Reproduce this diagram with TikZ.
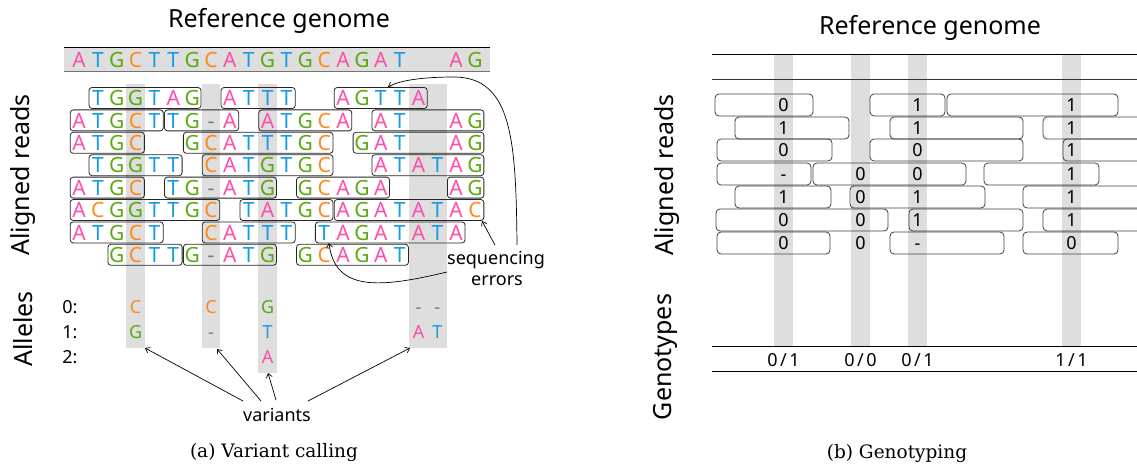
\documentclass[tikz,border=0pt]{standalone}
\usepackage{fontspec}
\newfontfamily\nsans{Noto Sans}
\newfontfamily\capserif{DejaVu Serif}
\usetikzlibrary{arrows.meta}
\definecolor{cA}{HTML}{FF4FA8}
\definecolor{cT}{HTML}{1A9BE6}
\definecolor{cG}{HTML}{5AAA12}
\definecolor{cC}{HTML}{FF8A1C}
\definecolor{cD}{HTML}{777777}
\definecolor{band}{HTML}{DEDEDE}
\newcommand\bA{\textcolor{cA}{A}}
\newcommand\bT{\textcolor{cT}{T}}
\newcommand\bG{\textcolor{cG}{G}}
\newcommand\bC{\textcolor{cC}{C}}
\newcommand\bD{\textcolor{cD}{-}}
\newcommand\bN{}
\newcommand\readbox[5]{%
  \node[rb, minimum width={18.86*(#4-#3)+17.6}] (#1) at ({79+18.86*(#3+#4)/2},#2) {};
  \foreach \l [count=\k from #3] in {#5}{\node[base] (#1-\k) at ({79+18.86*\k},#2) {\csname b\l\endcsname};}%
}
\newcommand\gbox[4]{%
  \node[gb, minimum width={#4-#3}] (#1) at ({(#3+#4)/2},#2) {};%
}
\begin{document}
\begin{tikzpicture}[x=1pt,y=-1pt,
 base/.style={inner sep=0pt, text height=15.5pt, text depth=0pt, font=\nsans\fontsize{21}{21}\selectfont},
 small/.style={inner sep=0pt, anchor=base, font=\nsans\fontsize{18}{18}\selectfont},
 big/.style={inner sep=0pt, font=\nsans\fontsize{25}{25}\selectfont},
 rb/.style={draw=black!85, line width=0.8pt, rounded corners=3pt, minimum height=21pt, inner sep=0pt},
 gb/.style={draw=black!75, line width=0.8pt, rounded corners=4pt, minimum height=22pt, inner sep=0pt},
 dig/.style={inner sep=0pt, text height=13pt, text depth=0pt, font=\nsans\fontsize{18}{18}\selectfont},
 arr/.style={-{Straight Barb[length=4pt,width=6pt]}, line width=0.7pt},
 captext/.style={inner sep=0pt, anchor=base, font=\capserif\fontsize{18.5}{18.5}\selectfont},
]
\useasboundingbox (0,0) rectangle (1137,468);
\clip (0,0) rectangle (1137,468);

% ---------- left panel ----------
\node[big, anchor=base] (t1) at (279,28) {Reference genome};
\fill[band] (64,47) rectangle (490,72);
\draw[black, line width=0.8pt] (64,47) -- (490,47);
\draw[black!55, line width=1pt] (64,72) -- (490,72);
\foreach \l [count=\k from 0] in {A,T,G,C,T,T,G,C,A,T,G,T,G,C,A,G,A,T,N,N,A,G}
  {\node[base] (g-\k) at ({79+18.86*\k},60) {\csname b\l\endcsname};}

% bands
\fill[band] (126.2,84) rectangle (145,348);
\fill[band] (201.6,84) rectangle (220.4,348);
\fill[band] (258.2,84) rectangle (277,373);
\fill[band] (409.1,84) rectangle (446.7,348);

% reads
\readbox{r1a}{98}{1}{6}{T,G,G,T,A,G}
\readbox{r1b}{98}{8}{11}{A,T,T,T}
\readbox{r1c}{98}{14}{18}{A,G,T,T,A}
\readbox{r2a}{120.4}{0}{4}{A,T,G,C,T}
\readbox{r2b}{120.4}{5}{8}{T,G,D,A}
\readbox{r2c}{120.4}{10}{14}{A,T,G,C,A}
\readbox{r2d}{120.4}{16}{21}{A,T,N,N,A,G}
\readbox{r3a}{142.8}{0}{3}{A,T,G,C}
\readbox{r3b}{142.8}{6}{13}{G,C,A,T,T,T,G,C}
\readbox{r3c}{142.8}{15}{21}{G,A,T,N,N,A,G}
\readbox{r4a}{165.2}{1}{5}{T,G,G,T,T}
\readbox{r4b}{165.2}{7}{13}{C,A,T,G,T,G,C}
\readbox{r4c}{165.2}{16}{21}{A,T,A,T,A,G}
\readbox{r5a}{187.6}{0}{3}{A,T,G,C}
\readbox{r5b}{187.6}{5}{10}{T,G,D,A,T,G}
\readbox{r5c}{187.6}{12}{16}{G,C,A,G,A}
\readbox{r5d}{187.6}{20}{21}{A,G}
\readbox{r6a}{210}{0}{7}{A,C,G,G,T,T,G,C}
\readbox{r6b}{210}{9}{13}{T,A,T,G,C}
\readbox{r6c}{210}{14}{21}{A,G,A,T,A,T,A,C}
\readbox{r7a}{232.4}{0}{4}{A,T,G,C,T}
\readbox{r7b}{232.4}{7}{11}{C,A,T,T,T}
\readbox{r7c}{232.4}{13}{20}{T,A,G,A,T,A,T,A}
\readbox{r8a}{254.8}{2}{5}{G,C,T,T}
\readbox{r8b}{254.8}{6}{10}{G,D,A,T,G}
\readbox{r8c}{254.8}{12}{17}{G,C,A,G,A,T}

\node[big, rotate=90] (lar) at (23,175) {Aligned reads};
\node[big, rotate=90] (lal) at (23,329) {Alleles};

% alleles
\node[small] (al0) at (70,313) {0:};
\node[small] (al1) at (70,338) {1:};
\node[small] (al2) at (70,363) {2:};
\node[small] (a30) at (135.6,313) {\bC};
\node[small] (a31) at (135.6,338) {\bG};
\node[small] (a70) at (211,313) {\bC};
\node[small] (a71) at (211,338) {\bD};
\node[small] (a100) at (267.6,313) {\bG};
\node[small] (a101) at (267.6,338) {\bT};
\node[small] (a102) at (267.6,363) {\bA};
\node[small] (a180) at (418.5,313) {\bD};
\node[small] (a190) at (437.3,313) {\bD};
\node[small] (a181) at (418.5,338) {\bA};
\node[small] (a191) at (437.3,338) {\bT};

% variants
\node[small] (var) at (277,421.5) {variants};
\coordinate (vs1) at (243,401);
\coordinate (vs2) at (261,401);
\coordinate (vs3) at (276,400);
\coordinate (vs4) at (308,401);
\coordinate (vt1) at (145,348);
\coordinate (vt2) at (217,349);
\coordinate (vt3) at (268,373);
\coordinate (vt4) at (410,348);
\draw[arr] (vs1) -- (vt1);
\draw[arr] (vs2) -- (vt2);
\draw[arr] (vs3) -- (vt3);
\draw[arr] (vs4) -- (vt4);

% sequencing errors
\node[small] (seq1) at (496,264) {sequencing};
\node[small] (seq2) at (497,285) {errors};
\coordinate (e1s) at (495,245);
\coordinate (e1t) at (482,221);
\coordinate (e2s) at (447,272);
\coordinate (e2t) at (329,243);
\coordinate (e3s) at (517,245);
\coordinate (e3m) at (455,77);
\coordinate (e3t) at (388,87);
\draw[arr] (e1s) -- (e1t);
\draw[arr] (e2s) .. controls (380,288) and (335,292) .. (e2t);
\draw[arr] (e3s) .. controls (516,140) and (512,78) .. (e3m) .. controls (430,77) and (402,79) .. (e3t);

\node[captext] (capa) at (274,457) {(a) Variant calling};

% ---------- right panel ----------
\node[big, anchor=base] (t2) at (930,35) {Reference genome};
\foreach \x in {783.5,860.5,917.5,1071.5}
  {\fill[band] ({\x-9.5},54) rectangle ({\x+9.5},346);}
\draw[black, line width=0.8pt] (712,54) -- (1137,54);
\draw[black!80, line width=0.8pt] (712,79) -- (1137,79);
\draw[black, line width=0.8pt] (712,346) -- (1137,346);
\draw[black, line width=0.8pt] (712,371) -- (1137,371);

\gbox{b11}{105}{715}{813}
\gbox{b12}{105}{870}{945}
\gbox{b13}{105}{947}{1118}
\gbox{b21}{128}{735}{849}
\gbox{b22}{128}{890}{1023}
\gbox{b23}{128}{1043}{1150}
\gbox{b31}{150}{717}{832}
\gbox{b32}{150}{870}{1023}
\gbox{b33}{150}{1063}{1150}
\gbox{b41}{174}{717}{811}
\gbox{b42}{174}{813}{966}
\gbox{b43}{174}{984}{1099}
\gbox{b51}{197}{735}{831}
\gbox{b52}{197}{850}{985}
\gbox{b53}{197}{1023}{1150}
\gbox{b61}{220}{716}{888}
\gbox{b62}{220}{909}{1023}
\gbox{b63}{220}{1043}{1150}
\gbox{b71}{243}{717}{830}
\gbox{b72}{243}{890}{1004}
\gbox{b73}{243}{1023}{1118}

\foreach \x/\y/\t [count=\n] in {
  783.5/105/0, 917.5/105/1, 1071.5/105/1,
  783.5/128/1, 917.5/128/1, 1071.5/128/1,
  783.5/150/0, 917.5/150/0, 1071.5/150/1,
  783.5/174/-, 860.5/174/0, 917.5/174/0, 1071.5/174/1,
  783.5/197/1, 860.5/197/0, 917.5/197/1, 1071.5/197/1,
  783.5/220/0, 860.5/220/0, 917.5/220/1, 1071.5/220/1,
  783.5/243/0, 860.5/243/0, 917.5/243/-, 1071.5/243/0}
  {\node[dig] (d\n) at (\x,\y) {\t};}

\node[big, rotate=90] (rar) at (667,175) {Aligned reads};
\node[big, rotate=90] (rge) at (665,357) {Genotypes};

\node[small] (gt1) at (783.5,366) {0\kern2.5pt/\kern2.5pt1};
\node[small] (gt2) at (860.5,366) {0\kern2.5pt/\kern2.5pt0};
\node[small] (gt3) at (917.5,366) {0\kern2.5pt/\kern2.5pt1};
\node[small] (gt4) at (1071.5,366) {1\kern2.5pt/\kern2.5pt1};

\node[captext] (capb) at (897,458) {(b) Genotyping};
\end{tikzpicture}
\end{document}
